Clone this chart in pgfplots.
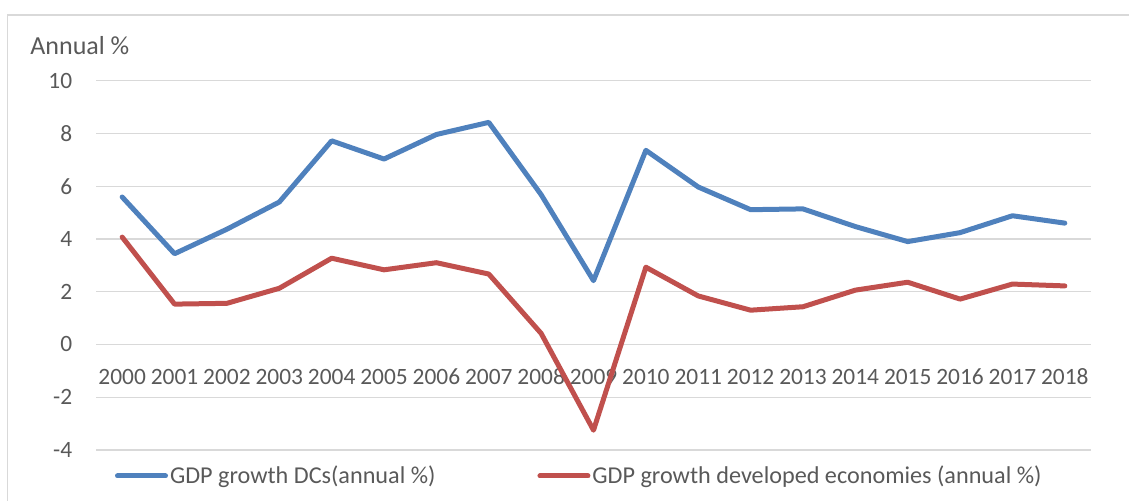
\documentclass[border=0pt]{standalone}
\usepackage{fontspec}
\setmainfont{Carlito}
\usepackage{pgfplots}
\pgfplotsset{compat=1.18}
\definecolor{dcblue}{HTML}{4F81BD}
\definecolor{devred}{HTML}{C0504D}
\definecolor{gridgray}{HTML}{D9D9D9}
\definecolor{txtgray}{HTML}{595959}

\begin{document}
\begin{tikzpicture}
% page frame: 1 px of the reference = 0.5pt
\path[use as bounding box] (0pt,0pt) rectangle (564.5pt,250.5pt);
\draw[gridgray, line width=0.6pt] (3.65pt,0pt) -- (3.65pt,243pt) -- (564.5pt,243pt);
\node[anchor=base west, inner sep=0pt, text=txtgray, font=\fontsize{13}{15}\selectfont]
  at (15pt,223pt) {Annual \%};

\begin{axis}[
    at={(48pt,25.5pt)}, anchor=south west,
    scale only axis,
    width=497.5pt, height=184.65pt,
    xmin=1999.5, xmax=2018.5,
    ymin=-4, ymax=10,
    xtick={2000,2001,2002,2003,2004,2005,2006,2007,2008,2009,2010,2011,2012,2013,2014,2015,2016,2017,2018},
    xticklabels={2000,2001,2002,2003,2004,2005,2006,2007,2008,2009,2010,2011,2012,2013,2014,2015,2016,2017,2018},
    ytick={-4,-2,0,2,4,6,8,10},
    yticklabels={-4,-2,0,2,4,6,8,10},
    ymajorgrids,
    grid style={gridgray, line width=0.6pt},
    axis line style={draw=none},
    major tick length=0pt,
    tick label style={font=\fontsize{11.7}{14}\selectfont, text=txtgray},
    yticklabel style={anchor=east, inner sep=0pt, xshift=-11.7pt},
    xticklabel style={anchor=center, inner sep=0pt, yshift=36.5pt},
    legend columns=2,
    legend cell align=left,
    legend style={draw=none, fill=none, at={(0.0191,-0.0704)}, anchor=west,
        inner sep=0pt, outer sep=0pt,
        font=\fontsize{12.1}{14}\selectfont, text=txtgray,
        nodes={inner sep=1pt},
        /tikz/every even column/.append style={column sep=50pt}},
    legend image code/.code={\draw[#1] (0pt,0pt) -- (24pt,0pt);},
    every axis plot/.append style={line width=2.5pt, line join=round, line cap=round},
]
\addplot[dcblue] coordinates {
    (2000,5.59) (2001,3.44) (2002,4.37) (2003,5.40) (2004,7.72)
    (2005,7.03) (2006,7.96) (2007,8.42) (2008,5.68) (2009,2.42)
    (2010,7.36) (2011,5.97) (2012,5.11) (2013,5.14) (2014,4.47)
    (2015,3.90) (2016,4.24) (2017,4.88) (2018,4.60)
};
\addlegendentry{GDP growth DCs(annual \%)}
\addplot[devred] coordinates {
    (2000,4.07) (2001,1.53) (2002,1.56) (2003,2.13) (2004,3.27)
    (2005,2.83) (2006,3.10) (2007,2.67) (2008,0.42) (2009,-3.25)
    (2010,2.93) (2011,1.84) (2012,1.30) (2013,1.43) (2014,2.06)
    (2015,2.36) (2016,1.72) (2017,2.29) (2018,2.22)
};
\addlegendentry{GDP growth developed economies (annual \%)}
\end{axis}
\end{tikzpicture}
\end{document}
